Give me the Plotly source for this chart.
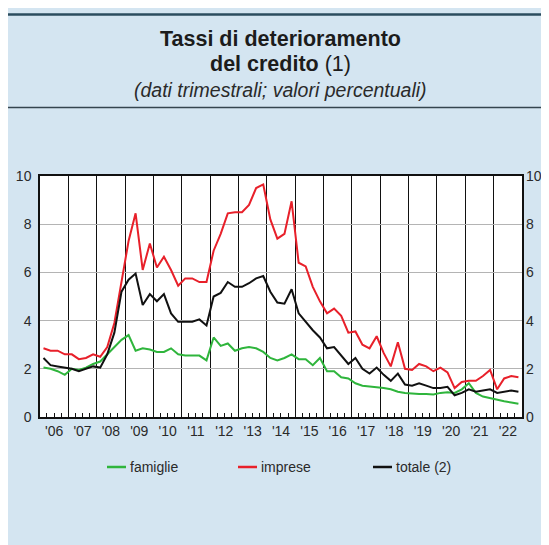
import pandas as pd
import plotly.graph_objects as go

# ---- data (quarterly, 2006Q1 - 2022Q4, percent) ----
first_quarter = "2006Q1"
last_quarter = "2022Q4"

famiglie = [
    2.05, 2.00, 1.90, 1.75,
    2.00, 1.95, 2.05, 2.20,
    2.30, 2.60, 2.90, 3.20,
    3.40, 2.75, 2.85, 2.80,
    2.70, 2.70, 2.85, 2.60,
    2.55, 2.55, 2.55, 2.35,
    3.30, 2.95, 3.05, 2.75,
    2.85, 2.90, 2.85, 2.70,
    2.45, 2.35, 2.45, 2.60,
    2.40, 2.40, 2.15, 2.45,
    1.90, 1.90, 1.65, 1.60,
    1.40, 1.30, 1.27, 1.25,
    1.20, 1.15, 1.05, 1.00,
    0.97, 0.95, 0.95, 0.93,
    1.00, 1.03, 1.00, 1.15,
    1.40, 1.00, 0.85, 0.78,
    0.70, 0.65, 0.60, 0.55,
]

imprese = [
    2.85, 2.75, 2.75, 2.60,
    2.60, 2.40, 2.45, 2.60,
    2.50, 2.90, 3.90, 5.60,
    7.30, 8.45, 6.10, 7.20,
    6.20, 6.65, 6.10, 5.45,
    5.75, 5.75, 5.60, 5.60,
    6.90, 7.60, 8.45, 8.50,
    8.50, 8.80, 9.50, 9.65,
    8.20, 7.40, 7.60, 8.95,
    6.40, 6.25, 5.40, 4.80,
    4.30, 4.50, 4.20, 3.50,
    3.55, 3.00, 2.85, 3.35,
    2.65, 2.10, 3.10, 2.00,
    1.95, 2.20, 2.10, 1.90,
    2.05, 1.85, 1.20, 1.45,
    1.50, 1.50, 1.70, 1.95,
    1.15, 1.60, 1.70, 1.65,
]

totale = [
    2.45, 2.15, 2.10, 2.05,
    2.00, 1.90, 2.00, 2.10,
    2.05, 2.60, 3.50, 5.20,
    5.70, 5.95, 4.65, 5.10,
    4.80, 5.10, 4.30, 3.95,
    3.95, 3.95, 4.05, 3.80,
    5.00, 5.15, 5.60, 5.40,
    5.40, 5.55, 5.75, 5.85,
    5.20, 4.75, 4.70, 5.30,
    4.30, 3.95, 3.60, 3.30,
    2.85, 2.90, 2.55, 2.20,
    2.45, 2.00, 1.80, 2.05,
    1.75, 1.50, 1.80, 1.35,
    1.30, 1.40, 1.30, 1.20,
    1.20, 1.25, 0.90, 1.00,
    1.15, 1.05, 1.10, 1.15,
    1.00, 1.05, 1.10, 1.05,
]

series_names = ["famiglie", "imprese", "totale (2)"]
series_colors = ["#2fb53c", "#e8202a", "#111111"]
y_ticks = [0, 2, 4, 6, 8, 10]

# quarter mid-points as dates
periods = pd.period_range(first_quarter, last_quarter, freq="Q")
x_dates = [(p.start_time + (p.end_time - p.start_time) / 2) for p in periods]

BG = "#d4e5f1"
FONT = "Liberation Sans, Arial, sans-serif"
TXT = "#2a2a2a"

# page has an 8px body margin; figure spans screen 8..549 x 8..545
OFF = 8
W, H = 541, 537
# plot area in screen pixels: x 40..522, y 176..417
PL, PR, PT, PB = 40, 522, 176, 417
def px(xpix):
    return (xpix - PL) / (PR - PL)
def py(ypix):
    return (PB - ypix) / (PB - PT)

fig = go.Figure()
for name, vals, col in zip(series_names, [famiglie, imprese, totale], series_colors):
    fig.add_trace(go.Scatter(
        x=x_dates, y=vals, name=name, mode="lines",
        line=dict(color=col, width=2),
        yaxis="y2" if name.startswith("totale") else "y",
        showlegend=False,
    ))

fig.update_layout(
    width=W, height=H,
    margin=dict(l=PL - OFF, r=W + OFF - PR, t=PT - OFF, b=H + OFF - PB, autoexpand=False),
    paper_bgcolor=BG,
    plot_bgcolor="white",
    font=dict(family=FONT, size=14, color=TXT),
    xaxis=dict(
        type="date", automargin=False,
        range=["2006-01-01", "2023-01-01"],
        tick0="2006-01-01", dtick="M12",
        tickformat="'%y", ticklabelmode="period",
        ticks="", showgrid=True, gridcolor="#111111", gridwidth=1.3,
        showline=True, linecolor="#111111", linewidth=1.5, mirror=True,
        minor=dict(dtick="M3", ticks="inside", ticklen=4, tickcolor="#111111",
                   tickwidth=1, showgrid=False),
        tickfont=dict(size=14, color=TXT),
        zeroline=False, fixedrange=True,
    ),
    yaxis=dict(
        automargin=False,
        range=[0, 10], tickvals=y_ticks,
        showgrid=True, gridcolor="#b4b4b4", gridwidth=1,
        showline=True, linecolor="#111111", linewidth=1.5, mirror=True,
        ticks="", zeroline=False, ticklabelstandoff=4,
        tickfont=dict(size=14, color=TXT),
    ),
    yaxis2=dict(
        automargin=False,
        range=[0, 10], tickvals=y_ticks,
        overlaying="y", side="right", showgrid=False, zeroline=False,
        ticks="", showline=False, ticklabelstandoff=3,
        tickfont=dict(size=14, color=TXT),
    ),
    showlegend=False,
)

# panel decoration
fig.add_shape(type="line", xref="paper", yref="paper",
              x0=px(OFF), x1=px(W + OFF), y0=py(14.5), y1=py(14.5),
              line=dict(color="#2b4c5e", width=2.5))
fig.add_shape(type="line", xref="paper", yref="paper",
              x0=px(OFF), x1=px(W + OFF), y0=py(107.5), y1=py(107.5),
              line=dict(color="#34454f", width=1.5))

# titles
cx = px(280)
fig.add_annotation(text="<b>Tassi di deterioramento</b>", xref="paper", yref="paper",
                   x=cx, y=py(39), showarrow=False, xanchor="center", yanchor="middle",
                   font=dict(size=21.5, color="#1c1c1c", family=FONT))
fig.add_annotation(text="<b>del credito</b> (1)", xref="paper", yref="paper",
                   x=cx, y=py(64), showarrow=False, xanchor="center", yanchor="middle",
                   font=dict(size=21.5, color="#1c1c1c", family=FONT))
fig.add_annotation(text="<i>(dati trimestrali; valori percentuali)</i>", xref="paper", yref="paper",
                   x=cx, y=py(90), showarrow=False, xanchor="center", yanchor="middle",
                   font=dict(size=19.5, color=TXT, family=FONT))

# custom legend (short line sample + label)
legend_line_x = [107, 238, 373]
for name, col, lx in zip(series_names, series_colors, legend_line_x):
    fig.add_shape(type="line", xref="paper", yref="paper",
                  x0=px(lx), x1=px(lx + 19), y0=py(467), y1=py(467),
                  line=dict(color=col, width=2.5))
    fig.add_annotation(text=name, xref="paper", yref="paper",
                       x=px(lx + 21), y=py(467), showarrow=False,
                       xanchor="left", yanchor="middle",
                       font=dict(size=14, color=TXT, family=FONT))

fig.write_html("out.html")
